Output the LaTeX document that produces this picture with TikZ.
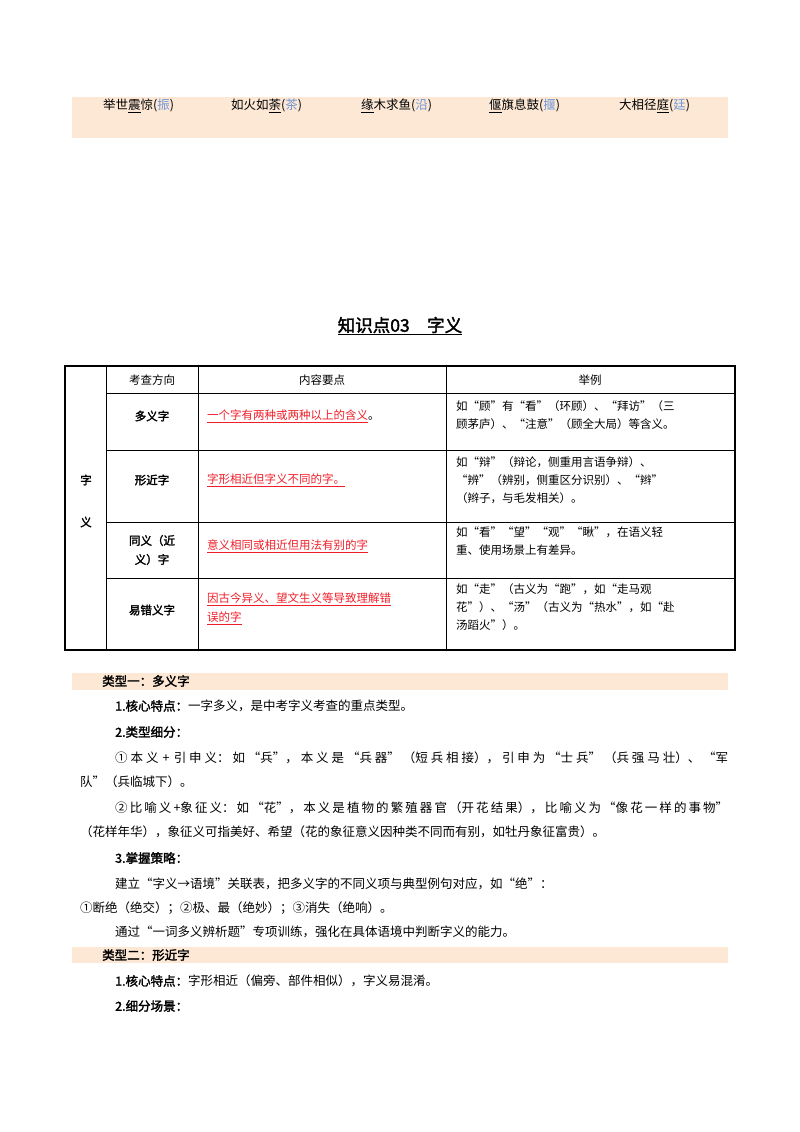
\documentclass[tikz,border=0pt]{standalone}
\usepackage{fontspec}
\setmainfont{Noto Sans CJK SC}
\newfontfamily\cjkb[FakeBold=2]{Noto Sans CJK SC}
\XeTeXlinebreaklocale "zh"
\XeTeXlinebreakskip=0pt plus 3pt
\definecolor{peach}{RGB}{253,232,214}
\definecolor{lblue}{RGB}{110,150,215}
\definecolor{ured}{RGB}{240,30,40}
\begin{document}
\begin{tikzpicture}[x=1pt,y=-1pt,
  body/.style={anchor=west,inner sep=0pt,font=\fontsize{12.5}{15}\selectfont},
  full/.style={anchor=west,inner sep=0pt,font=\fontsize{12.5}{15}\selectfont,text width=613pt,align=justify,execute at begin node={\parfillskip=0pt}},
  cell/.style={anchor=center,inner sep=0pt,font=\fontsize{11.5}{18}\selectfont,align=left},
  hd/.style={anchor=center,inner sep=0pt,font=\fontsize{11.5}{14}\selectfont\cjkb},
  rd/.style={anchor=west,inner sep=0pt,font=\fontsize{11.5}{19}\selectfont,text=ured,align=left}]
\useasboundingbox (0,0) rectangle (800,1132);
\fill[peach] (72,97) rectangle (728,138);
\node[body] (w1) at (103,106) {举世\underline{震}惊(\textcolor{lblue}{振})};
\node[body] (w2) at (231,106) {如火如\underline{荼}(\textcolor{lblue}{茶})};
\node[body] (w3) at (361,106) {\underline{缘}木求鱼(\textcolor{lblue}{沿})};
\node[body] (w4) at (489,106) {\underline{偃}旗息鼓(\textcolor{lblue}{揠})};
\node[body] (w5) at (619,106) {大相径\underline{庭}(\textcolor{lblue}{廷})};
\node[inner sep=0pt,font=\fontsize{17.5}{20}\selectfont\cjkb] (title) at (400,326) {\underline{知识点03\hspace{1em}字义}};
% table
\draw[line width=1.6pt] (65,366) rectangle (735,650);
\draw[line width=0.8pt] (106,366) -- (106,650);
\foreach \x in {198,446} \draw[line width=0.8pt] (\x,366) -- (\x,650);
\foreach \y in {393,450,522,578} \draw[line width=0.8pt] (106,\y) -- (735,\y);
\node[hd] (c0) at (86,480) {字};
\node[hd] (c0b) at (86,522) {义};
\node[cell] (h1) at (152,380) {考查方向};
\node[cell] (h2) at (322,380) {内容要点};
\node[cell] (h3) at (590,380) {举例};
\node[hd] (r1) at (152,416) {多义字};
\node[hd] (r2) at (152,480) {形近字};
\node[hd,align=center,font=\fontsize{11.5}{19}\selectfont\cjkb] (r3) at (152,550) {同义（近\\义）字};
\node[hd] (r4) at (152,610) {易错义字};
\node[rd] (p1) at (207,416) {\underline{一个字有两种或两种以上的含义}\textcolor{black}{。}};
\node[rd] (p2) at (207,480) {\underline{字形相近但字义不同的字。}};
\node[rd] (p3) at (207,546) {\underline{意义相同或相近但用法有别的字}};
\node[rd] (p4) at (207,609) {\underline{因古今异义、望文生义等导致理解错}\\\underline{误的字}};
\node[cell,anchor=north west] (e1) at (456,400) {如“顾”有“看”（环顾）、“拜访”（三\\顾茅庐）、“注意”（顾全大局）等含义。};
\node[cell,anchor=north west] (e2) at (456,456) {如“辩”（辩论，侧重用言语争辩）、\\“辨”（辨别，侧重区分识别）、“辫”\\（辫子，与毛发相关）。};
\node[cell,anchor=north west] (e3) at (456,527) {如“看”“望”“观”“瞅”，在语义轻\\重、使用场景上有差异。};
\node[cell,anchor=north west] (e4) at (456,583) {如“走”（古义为“跑”，如“走马观\\花”）、“汤”（古义为“热水”，如“赴\\汤蹈火”）。};
% body
\fill[peach] (72,673) rectangle (728,690);
\node[body,font=\fontsize{12.5}{15}\selectfont\cjkb] (s1) at (102,681) {类型一：多义字};
\node[body] (l1) at (115,706) {{\cjkb 1.核心特点：}一字多义，是中考字义考查的重点类型。};
\node[body] (l2) at (115,732) {{\cjkb 2.类型细分：}};
\node[full] (l3) at (115,758) {①本义 + 引申义：如“兵”，本义是“兵器”（短兵相接），引申为“士兵”（兵强马壮）、“军};
\node[body] (l4) at (80,782) {队”（兵临城下）。};
\node[full] (l5) at (115,808) {②比喻义+象征义：如“花”，本义是植物的繁殖器官（开花结果），比喻义为“像花一样的事物”};
\node[body] (l6) at (80,832) {（花样年华），象征义可指美好、希望（花的象征意义因种类不同而有别，如牡丹象征富贵）。};
\node[body] (l7) at (115,858) {{\cjkb 3.掌握策略：}};
\node[body] (l8) at (115,884) {建立“字义→语境”关联表，把多义字的不同义项与典型例句对应，如“绝”：};
\node[body] (l9) at (80,908) {①断绝（绝交）；②极、最（绝妙）；③消失（绝响）。};
\node[body] (l10) at (115,932) {通过“一词多义辨析题”专项训练，强化在具体语境中判断字义的能力。};
\fill[peach] (72,947) rectangle (728,963);
\node[body,font=\fontsize{12.5}{15}\selectfont\cjkb] (s2) at (102,955) {类型二：形近字};
\node[body] (l11) at (115,981) {{\cjkb 1.核心特点：}字形相近（偏旁、部件相似），字义易混淆。};
\node[body] (l12) at (115,1006) {{\cjkb 2.细分场景：}};
\end{tikzpicture}
\end{document}
